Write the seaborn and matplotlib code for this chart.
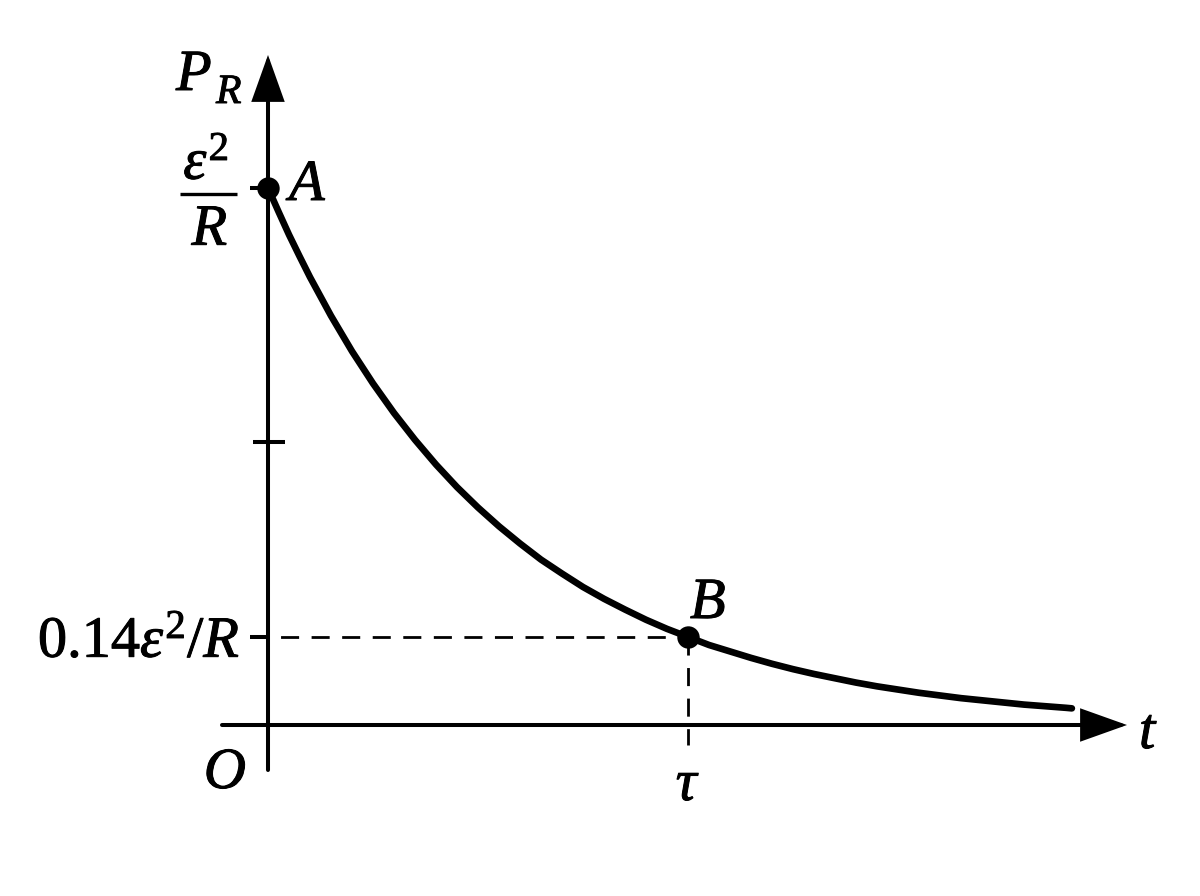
import matplotlib
matplotlib.use("Agg")
import matplotlib.pyplot as plt
import matplotlib.patheffects as pe
import numpy as np
import pandas as pd
import seaborn as sns

# ---------------- data (t in units of tau, P in units of eps^2/R) ----------------
t_curve = [0.000, 0.025, 0.050, 0.075, 0.100, 0.125, 0.150, 0.175, 0.200, 0.250,
           0.300, 0.350, 0.400, 0.450, 0.500, 0.550, 0.600, 0.650, 0.700, 0.750,
           0.800, 0.850, 0.900, 0.950, 1.000, 1.050, 1.100, 1.150, 1.200, 1.250,
           1.300, 1.350, 1.400, 1.450, 1.500, 1.550, 1.600, 1.650, 1.700, 1.750,
           1.800, 1.850, 1.900, 1.914]
p_curve = [1.000, 0.956, 0.913, 0.873, 0.834, 0.798, 0.762, 0.729, 0.696, 0.636,
           0.581, 0.531, 0.485, 0.443, 0.405, 0.370, 0.338, 0.308, 0.282, 0.257,
           0.235, 0.215, 0.196, 0.179, 0.164, 0.149, 0.137, 0.125, 0.114, 0.104,
           0.095, 0.087, 0.079, 0.072, 0.066, 0.060, 0.055, 0.050, 0.046, 0.042,
           0.038, 0.035, 0.032, 0.031]
point_names = ["A", "B"]
point_t = [0.0, 1.0]
point_p = [1.0, 0.164]
y_tick_values = [1.0, 0.527, 0.164]
frac_top, frac_bottom = r"$\varepsilon^2$", r"$R$"
y_tick_label_B = r"$0.14\varepsilon^2/R$"
x_tick_values = [1.0]
x_tick_labels = [r"$\tau$"]
x_axis_label = "t"
y_axis_main, y_axis_sub = "P", "R"
origin_label = "O"

curve_df = pd.DataFrame({"t": t_curve, "P": p_curve})
points_df = pd.DataFrame({"name": point_names, "t": point_t, "P": point_p})

# ---------------- style ----------------
sns.set_theme(style="white")
plt.rcParams["font.family"] = ["Liberation Serif", "DejaVu Serif"]
plt.rcParams["mathtext.fontset"] = "custom"
plt.rcParams["mathtext.rm"] = "Liberation Serif"
plt.rcParams["mathtext.it"] = "Liberation Serif:italic"
plt.rcParams["mathtext.bf"] = "Liberation Serif:bold"
plt.rcParams["text.color"] = "black"

W, H = 1200, 896
fig = plt.figure(figsize=(W / 100, H / 100), dpi=100)
ax = fig.add_axes([0, 0, 1, 1])

# layout: pixel position of origin and unit lengths
OX, OY, UX, UY = 268.0, 725.0, 420.0, 537.0
ax.set_xlim(-OX / UX, (W - OX) / UX)
ax.set_ylim((OY - H) / UY, OY / UY)
ax.set_axis_off()


def px(x, y):
    """convert a pixel layout position to data coordinates"""
    return (x - OX) / UX, (OY - y) / UY


LW_AX = 2.9
LW_CURVE = 4.8
LW_DASH = 2.0
FS = 42
FS_SUB = 30
thick = [pe.withStroke(linewidth=0.7, foreground="black")]


def label(x, y, s, fs=FS, **kw):
    ax.text(*px(x, y), s, fontsize=fs, color="black", path_effects=thick, **kw)


# axes with arrows
arrow_style = "-|>,head_length=1.4,head_width=0.5"
ax.annotate("", xy=px(1127, OY), xytext=px(222, OY),
            arrowprops=dict(arrowstyle=arrow_style, mutation_scale=20, lw=LW_AX,
                            color="black", shrinkA=0, shrinkB=0, joinstyle="miter"))
ax.annotate("", xy=px(OX, 55), xytext=px(OX, 770),
            arrowprops=dict(arrowstyle=arrow_style, mutation_scale=20, lw=LW_AX,
                            color="black", shrinkA=0, shrinkB=0, joinstyle="miter"))

# dashed guide lines for B
tB, pB = point_t[1], point_p[1]
ax.plot([px(250, 0)[0], tB], [pB, pB], color="black", lw=LW_DASH, dashes=(6.5, 4.5))
ax.plot([tB, tB], [pB, px(0, 745)[1]], color="black", lw=LW_DASH, dashes=(6.5, 4.5))

# y ticks
for v in y_tick_values:
    if v == y_tick_values[1]:
        ax.plot([px(253, 0)[0], px(285, 0)[0]], [v, v], color="black", lw=LW_AX,
                solid_capstyle="butt")
    else:
        ax.plot([px(250, 0)[0], 0], [v, v], color="black", lw=LW_AX,
                solid_capstyle="butt")

# curve & points
sns.lineplot(data=curve_df, x="t", y="P", ax=ax, color="black", lw=LW_CURVE,
             sort=False, estimator=None)
sns.scatterplot(data=points_df, x="t", y="P", ax=ax, color="black", s=260,
                edgecolor="black", linewidth=0, zorder=5)
ax.set_xlabel("")
ax.set_ylabel("")

# fraction label eps^2 / R at A's level
label(206, 179, frac_top, ha="center", va="baseline")
ax.plot([px(180, 0)[0], px(237, 0)[0]], [px(0, 194)[1]] * 2, color="black",
        lw=2.4, solid_capstyle="butt")
label(210, 245, frac_bottom, ha="center", va="baseline")
# 0.14 eps^2/R label
label(240, 657, y_tick_label_B, ha="right", va="baseline")
# tau
label(688, 800, x_tick_labels[0], ha="center", va="baseline")

# axis labels and point names
label(176, 90, y_axis_main, style="italic", ha="left", va="baseline")
label(216, 103, y_axis_sub, fs=FS_SUB, style="italic", ha="left", va="baseline")
label(1139, 748, x_axis_label, style="italic", ha="left", va="baseline")
label(246, 788, origin_label, style="italic", ha="right", va="baseline")
label(289, 200, point_names[0], style="italic", ha="left", va="baseline")
label(690, 618, point_names[1], style="italic", ha="left", va="baseline")

fig.savefig("out.png", dpi=100, facecolor="white")
